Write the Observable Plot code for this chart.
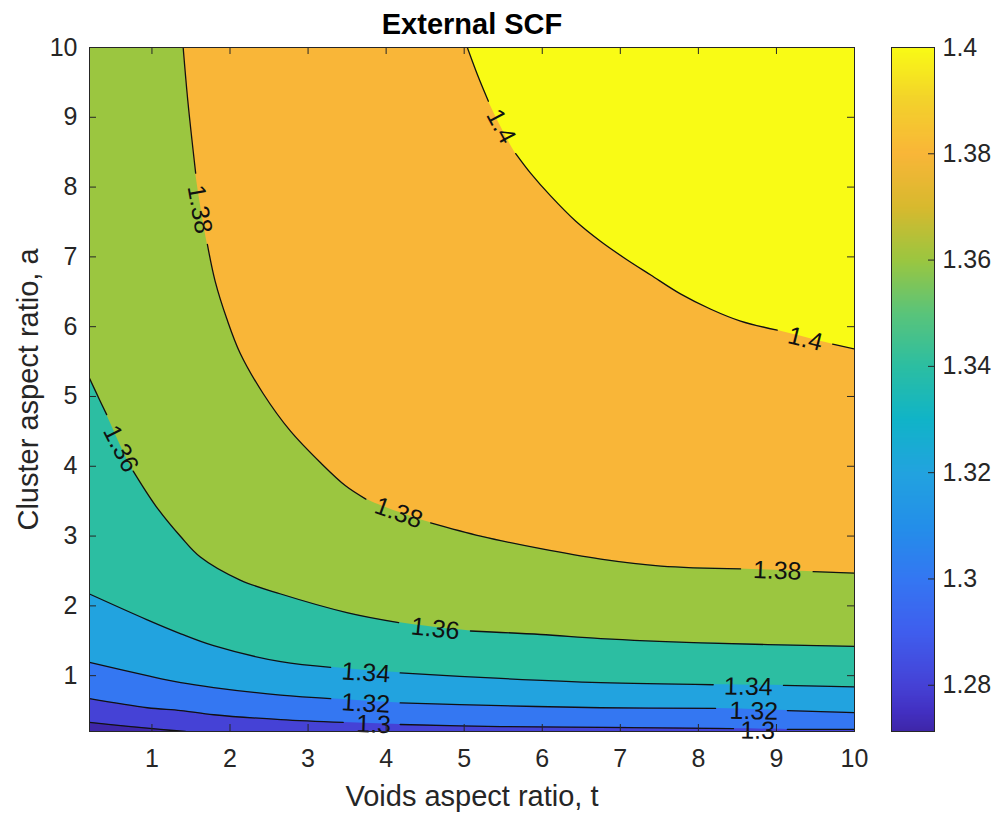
<!DOCTYPE html>
<html><head><meta charset="utf-8">
<script src="https://cdn.jsdelivr.net/npm/d3@7"></script>
<script src="https://cdn.jsdelivr.net/npm/@observablehq/plot@0.6"></script>
<style>
html,body{margin:0;padding:0;background:#fff;}
#chart{position:relative;width:996px;height:815px;}
#main{position:absolute;left:0;top:0;}
#cbar{position:absolute;left:870px;top:0;}
</style></head><body>
<div id="chart"><div id="main"></div><div id="cbar"></div></div>
<script>
// ---------- data ----------
const title = "External SCF";
const xLabel = "Voids aspect ratio, t";
const yLabel = "Cluster aspect ratio, a";
const xDomain = [0.2, 10];
const yDomain = [0.2, 10];
const xTicks = [1, 2, 3, 4, 5, 6, 7, 8, 9, 10];
const yTicks = [1, 2, 3, 4, 5, 6, 7, 8, 9, 10];
const cbDomain = [1.2713, 1.4];
const cbTicks = [1.28, 1.3, 1.32, 1.34, 1.36, 1.38, 1.4];

// parula-like colormap stops (value -> colour)
const cmapValues = [1.2713, 1.275, 1.28, 1.29, 1.30, 1.31, 1.32, 1.33, 1.34, 1.35, 1.36, 1.37, 1.38, 1.39, 1.40];
const cmapColors = ["#3e26a8", "#4230c2", "#4542d6", "#3f5eee", "#3477f2", "#238fe9", "#22a3df", "#10b4c8", "#2cbea2", "#5ac47a", "#9bc640", "#d8b92e", "#f9b638", "#f3d22b", "#f9fb15"];

// contour lines (t, a), split into segments where the inline labels break them
const c128 = [[[0.2, 0.33], [0.73, 0.27], [1.11, 0.23], [1.43, 0.2]]];
const c130 = [
  [[0.2, 0.67], [0.94, 0.54], [1.37, 0.50], [1.79, 0.44], [2.65, 0.37], [3.45, 0.33]],
  [[4.18, 0.30], [5.47, 0.27], [6.75, 0.26], [8.45, 0.24]],
  [[9.14, 0.23], [10, 0.23]]
];
const c132 = [
  [[0.2, 1.19], [0.94, 1.0], [1.37, 0.90], [1.79, 0.83], [2.65, 0.72], [3.29, 0.67]],
  [[4.18, 0.61], [5.47, 0.57], [6.75, 0.54], [8.22, 0.53]],
  [[9.14, 0.50], [10, 0.47]]
];
const c134 = [
  [[0.2, 2.17], [0.94, 1.80], [1.37, 1.60], [1.79, 1.43], [2.65, 1.20], [3.29, 1.12]],
  [[4.18, 1.04], [5.47, 0.96], [6.75, 0.90], [8.19, 0.87]],
  [[9.09, 0.86], [10, 0.84]]
];
const c136 = [
  [[0.2, 5.26], [0.33, 4.95], [0.42, 4.74]],
  [[0.76, 3.93], [1.05, 3.43], [1.37, 2.99], [1.62, 2.70], [2.13, 2.37], [2.65, 2.17], [3.51, 1.90], [4.16, 1.76]],
  [[5.08, 1.64], [5.98, 1.59], [6.75, 1.53], [8.03, 1.47], [10, 1.42]]
];
const c138 = [
  [[1.40, 10], [1.46, 9.23], [1.56, 8.20]],
  [[1.71, 7.18], [1.81, 6.65], [1.96, 6.11], [2.13, 5.62], [2.42, 5.05], [2.77, 4.51], [3.16, 4.05], [3.48, 3.72], [3.74, 3.53]],
  [[4.57, 3.19], [5.21, 3.0], [5.98, 2.82], [6.75, 2.67], [7.52, 2.57], [8.54, 2.53]],
  [[9.47, 2.49], [10, 2.47]]
];
const c140 = [
  [[5.04, 10], [5.18, 9.58], [5.31, 9.23]],
  [[5.66, 8.48], [5.85, 8.20], [6.11, 7.87], [6.43, 7.51], [6.75, 7.22], [7.07, 6.97], [7.39, 6.74], [7.77, 6.47], [8.16, 6.25], [8.54, 6.08], [9.01, 5.95]],
  [[9.72, 5.75], [10, 5.68]]
];
const levels = [1.28, 1.30, 1.32, 1.34, 1.36, 1.38, 1.40];
const contourSets = [c128, c130, c132, c134, c136, c138, c140];

// inline contour labels
const labelText = ["1.4", "1.4", "1.38", "1.38", "1.38", "1.36", "1.36", "1.34", "1.34", "1.32", "1.32", "1.3", "1.3"];
const labelX = [5.47, 9.37, 1.61, 4.16, 9.01, 0.60, 4.63, 3.74, 8.64, 3.74, 8.71, 3.84, 8.76];
const labelY = [8.87, 5.82, 7.68, 3.33, 2.50, 4.25, 1.67, 1.04, 0.84, 0.60, 0.49, 0.30, 0.21];
const labelAngle = [62, 14, 80, 20, 2, 63, 6, 4, 1, 3, 1, 2, 1];

// ---------- build tables ----------
const lineRows = [], areaRows = [];
contourSets.forEach((segs, li) => {
  const lv = levels[li];
  segs.forEach((seg, si) => seg.forEach(([x, y]) => lineRows.push({level: lv, key: lv + "-" + si, x, y})));
  const pts = segs.flat();
  pts.forEach(([x, y]) => areaRows.push({level: lv, x, y}));
  const last = pts[pts.length - 1];
  if (last[1] <= yDomain[0] && last[0] < xDomain[1]) areaRows.push({level: lv, x: xDomain[1], y: yDomain[0]});
});
const labelRows = labelText.map((t, i) => ({text: t, x: labelX[i], y: labelY[i], angle: labelAngle[i]}));

// ---------- layout ----------
const W = 870, H = 815, mL = 89, mR = 16, mT = 47, mB = 84;
const innerW = W - mL - mR, innerH = H - mT - mB;
const tickLen = 7;
const ink = "#262626";
const font = "'Liberation Sans', Arial, Helvetica, sans-serif";
const colorScale = {type: "linear", domain: cmapValues, range: cmapColors, interpolate: "rgb"};
const curve = "catmull-rom";

const main = Plot.plot({
  width: W, height: H, marginLeft: mL, marginRight: mR, marginTop: mT, marginBottom: mB,
  x: {domain: xDomain},
  y: {domain: yDomain},
  color: colorScale,
  style: {fontFamily: font, fontSize: "25px", color: ink, background: "#fff", overflow: "visible"},
  marks: [
    Plot.rect([{v: cbDomain[0]}], {x1: xDomain[0], x2: xDomain[1], y1: yDomain[0], y2: yDomain[1], fill: "v"}),
    Plot.areaY(areaRows, {x: "x", y1: "y", y2: yDomain[1], z: "level", fill: "level", curve, clip: true}),
    Plot.line(lineRows, {x: "x", y: "y", z: "key", stroke: "#111", strokeWidth: 1.3, curve, clip: true}),
    Plot.text(labelRows, {x: "x", y: "y", text: "text", rotate: "angle", fontSize: 25, fill: "#111"}),
    Plot.tickX(xTicks, {x: d => d, insetTop: innerH - tickLen, stroke: ink}),
    Plot.tickX(xTicks, {x: d => d, insetBottom: innerH - tickLen, stroke: ink}),
    Plot.tickY(yTicks, {y: d => d, insetRight: innerW - tickLen, stroke: ink}),
    Plot.tickY(yTicks, {y: d => d, insetLeft: innerW - tickLen, stroke: ink}),
    Plot.frame({stroke: ink, strokeWidth: 1}),
    Plot.axisX({ticks: xTicks, tickSize: 0, tickPadding: 18, label: null, tickFormat: d => String(d), fontSize: 25}),
    Plot.axisY({ticks: yTicks, tickSize: 0, tickPadding: 12, label: null, tickFormat: d => String(d), fontSize: 25}),
    Plot.text([title], {text: d => d, frameAnchor: "top", dy: -23, lineAnchor: "middle", textAnchor: "middle", fontWeight: "bold", fontSize: 29, fill: "#000"}),
    Plot.text([xLabel], {text: d => d, frameAnchor: "bottom", dy: 65, lineAnchor: "middle", textAnchor: "middle", fontSize: 29, fill: ink}),
    Plot.text([yLabel], {text: d => d, frameAnchor: "left", dx: -61, rotate: -90, lineAnchor: "middle", textAnchor: "middle", fontSize: 29, fill: ink})
  ]
});
document.getElementById("main").appendChild(main);

const cbW = 126, cbL = 21, cbBar = 43, cbR = cbW - cbL - cbBar;
const cbar = Plot.plot({
  width: cbW, height: H, marginLeft: cbL, marginRight: cbR, marginTop: mT, marginBottom: mB,
  x: {domain: [0, 1], axis: null},
  y: {domain: cbDomain},
  color: colorScale,
  style: {fontFamily: font, fontSize: "25px", color: ink, background: "#fff", overflow: "visible"},
  marks: [
    Plot.raster({x1: 0, x2: 1, y1: cbDomain[0], y2: cbDomain[1], width: 2, height: 400, fill: (x, y) => y, imageRendering: "auto"}),
    Plot.tickY(cbTicks, {y: d => d, insetLeft: cbBar - 6, stroke: ink}),
    Plot.frame({stroke: ink, strokeWidth: 1}),
    Plot.axisY({anchor: "right", ticks: cbTicks, tickSize: 0, tickPadding: 8, label: null, tickFormat: d => String(d), fontSize: 25})
  ]
});
document.getElementById("cbar").appendChild(cbar);
</script>
</body></html>
